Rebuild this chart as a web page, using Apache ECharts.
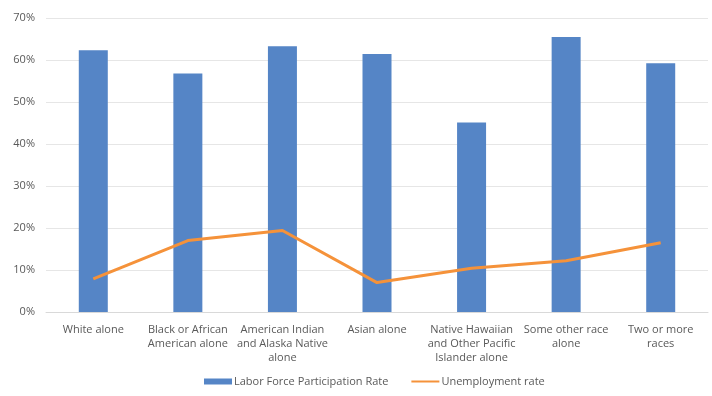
<!DOCTYPE html>
<html><head><meta charset="utf-8">
<script src="https://cdn.jsdelivr.net/npm/echarts@6/dist/echarts.min.js"></script>
<style>html,body{margin:0;padding:0;background:#fff}#c{width:712px;height:396px}</style>
</head><body><div id="c"></div>
<script>
const categories = ["White alone","Black or African\nAmerican alone","American Indian\nand Alaska Native\nalone","Asian alone","Native Hawaiian\nand Other Pacific\nIslander alone","Some other race\nalone","Two or more\nraces"];
const laborForce = [62.3, 56.8, 63.3, 61.4, 45.1, 65.5, 59.2];
const unemployment = [7.9, 17.0, 19.4, 7.0, 10.4, 12.2, 16.5];
const yTicks = [0,10,20,30,40,50,60,70];
const font = "'Open Sans', 'Noto Sans', sans-serif";
const chart = echarts.init(document.getElementById('c'));
chart.setOption({
  animation:false,
  textStyle:{fontFamily:font},
  grid:{left:46,right:4,top:18,bottom:84},
  legend:{bottom:4,left:199,itemGap:22,itemWidth:28,itemHeight:6,
    textStyle:{color:'#595959',fontSize:11,fontFamily:font,padding:[0,0,0,-3]},
    data:[{name:'Labor Force Participation Rate',icon:'rect'},
          {name:'Unemployment rate',itemStyle:{opacity:0}}]},
  xAxis:{type:'category',data:categories,
    axisLine:{lineStyle:{color:'#d9d9d9'}},axisTick:{show:false},
    axisLabel:{color:'#595959',fontSize:11,lineHeight:14,interval:0,margin:11,fontFamily:font}},
  yAxis:{type:'value',min:yTicks[0],max:yTicks[yTicks.length-1],interval:10,
    axisLabel:{formatter:'{value}%',color:'#595959',fontSize:11,margin:11,fontFamily:font},
    splitLine:{lineStyle:{color:'#e6e6e6',width:1}},axisLine:{show:false},axisTick:{show:false}},
  series:[
    {name:'Labor Force Participation Rate',type:'bar',data:laborForce,barWidth:29,
      itemStyle:{color:'#5585C6'}},
    {name:'Unemployment rate',type:'line',data:unemployment,symbol:'none',
      lineStyle:{color:'#F5923A',width:3},itemStyle:{color:'#F5923A'}}
  ]
});
</script></body></html>
